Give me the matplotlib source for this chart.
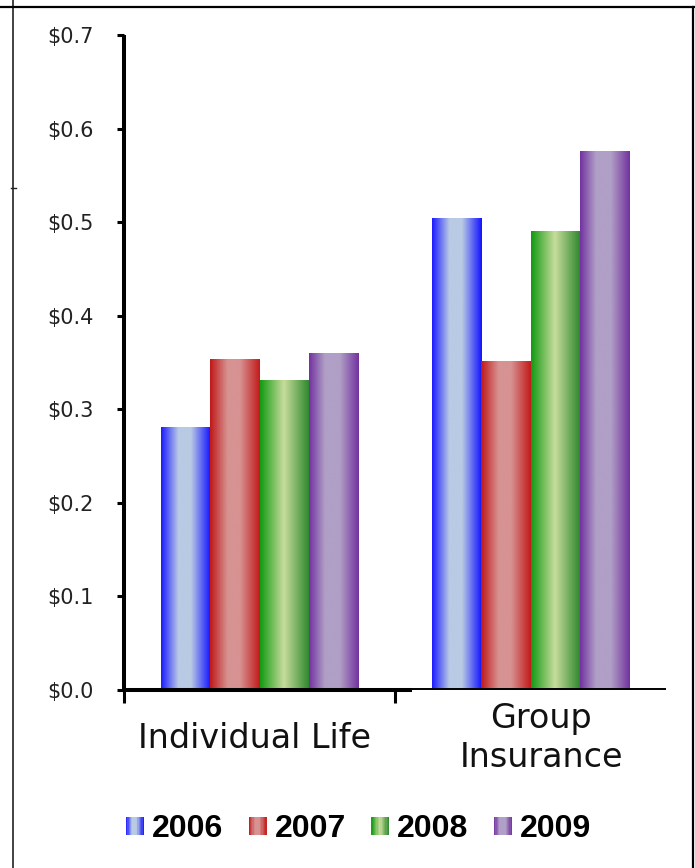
import numpy as np
import matplotlib
matplotlib.use("Agg")
import matplotlib.pyplot as plt
from matplotlib.colors import LinearSegmentedColormap
from matplotlib.lines import Line2D
from matplotlib.patches import Patch, Rectangle
from matplotlib.legend_handler import HandlerBase
from matplotlib.transforms import ScaledTranslation

categories = ["Individual Life", "Group\nInsurance"]
years = ["2006", "2007", "2008", "2009"]
values = {
    "2006": [0.281, 0.504],
    "2007": [0.353, 0.351],
    "2008": [0.331, 0.490],
    "2009": [0.360, 0.576],
}
yticks = [0.0, 0.1, 0.2, 0.3, 0.4, 0.5, 0.6, 0.7]

# horizontal gradient stops per series: (position, colour)
gradients = {
    "2006": [(0.0, "#1a1aff"), (0.35, "#b9cae4"), (0.6, "#b9cae4"), (1.0, "#1212ff")],
    "2007": [(0.0, "#c01818"), (0.35, "#d79292"), (0.6, "#d79292"), (1.0, "#c21a1a")],
    "2008": [(0.0, "#129a12"), (0.48, "#c8dc9c"), (1.0, "#2a862a")],
    "2009": [(0.0, "#7232a0"), (0.32, "#b09fc6"), (0.62, "#b09fc6"), (1.0, "#7232a0")],
}
cmaps = {y: LinearSegmentedColormap.from_list("g" + y, gradients[y]) for y in years}


class GradientHandler(HandlerBase):
    def __init__(self, cmap, n=14):
        super().__init__()
        self.cmap = cmap
        self.n = n

    def create_artists(self, legend, orig_handle, xdescent, ydescent,
                       width, height, fontsize, trans):
        side = min(width, height)
        x0 = -xdescent + (width - side) / 2
        y0 = -ydescent + (height - side) / 2
        step = side / self.n
        out = []
        for k in range(self.n):
            c = self.cmap((k + 0.5) / self.n)
            out.append(Rectangle((x0 + k * step, y0), step * 1.05, side,
                                 facecolor=c, edgecolor="none", transform=trans))
        return out


fig = plt.figure(figsize=(6.95, 8.68), dpi=100)
ax = fig.add_axes([124 / 695, 1 - 690 / 868, 542 / 695, 655 / 868])

x = np.arange(len(categories))
w = 0.181
grad = np.linspace(0, 1, 256).reshape(1, -1)
for i, yr in enumerate(years):
    bars = ax.bar(x + (i - 1.5) * w, values[yr], width=w, color="none",
                  linewidth=0, zorder=2)
    for b in bars:
        bx, by = b.get_x(), b.get_y()
        ax.imshow(grad, cmap=cmaps[yr], aspect="auto", zorder=2,
                  extent=[bx, bx + b.get_width(), by, by + b.get_height()],
                  interpolation="bilinear")

ax.set_xlim(-0.5, 1.5)
ax.set_ylim(0, 0.7)

# axes styling
for s in ["top", "right", "bottom"]:
    ax.spines[s].set_visible(False)
ax.spines["left"].set_linewidth(2.9)
ax.spines["left"].set_capstyle("butt")
ax.plot([0, 0.531], [0, 0], transform=ax.transAxes, color="black", lw=2.9,
        solid_capstyle="butt", clip_on=False, zorder=3)
ax.plot([0.531, 1.0], [0.002, 0.002], transform=ax.transAxes, color="black", lw=1.4,
        solid_capstyle="butt", clip_on=False, zorder=3)

ax.set_yticks(yticks)
ax.set_yticklabels(["$%.1f" % v for v in yticks])
ax.tick_params(axis="y", direction="out", length=5, width=2.2, pad=17,
               labelsize=15, labelcolor="#222222")

ax.set_xticks([-0.5, 0.5])
ax.set_xticklabels([])
ax.tick_params(axis="x", direction="out", length=9, width=2.2)

# category names under the groups
shifts = [-5, 11]
for xi, name, dx in zip(x, categories, shifts):
    off = ScaledTranslation(dx / 100, -48 / 100, fig.dpi_scale_trans)
    ax.text(xi, 0, name, transform=ax.get_xaxis_transform() + off,
            ha="center", va="center", multialignment="center",
            fontsize=24, color="#111111", linespacing=1.22)

# legend with gradient swatches
proxies = [Patch(label=yr) for yr in years]
hmap = {p: GradientHandler(cmaps[yr]) for p, yr in zip(proxies, years)}
fig.legend(handles=proxies, handler_map=hmap, loc="center",
           bbox_to_anchor=(0.516, 1 - 829 / 868), ncol=4, frameon=False,
           prop={"family": "Liberation Sans", "weight": "bold", "size": 23},
           handlelength=0.56, handleheight=0.56, handletextpad=0.25,
           columnspacing=0.8)

# surrounding frame lines
fig.add_artist(Line2D([13 / 695, 13 / 695], [0, 1], color="#222222", lw=1.2))
fig.add_artist(Line2D([0, 694 / 695], [1 - 6.5 / 868] * 2, color="black", lw=1.6))
fig.add_artist(Line2D([693 / 695] * 2, [0, 1 - 6.5 / 868], color="black", lw=1.6))
fig.add_artist(Line2D([11 / 695, 16 / 695], [1 - 188 / 868] * 2, color="#222222", lw=1.0))

fig.savefig("out.png", dpi=100)
